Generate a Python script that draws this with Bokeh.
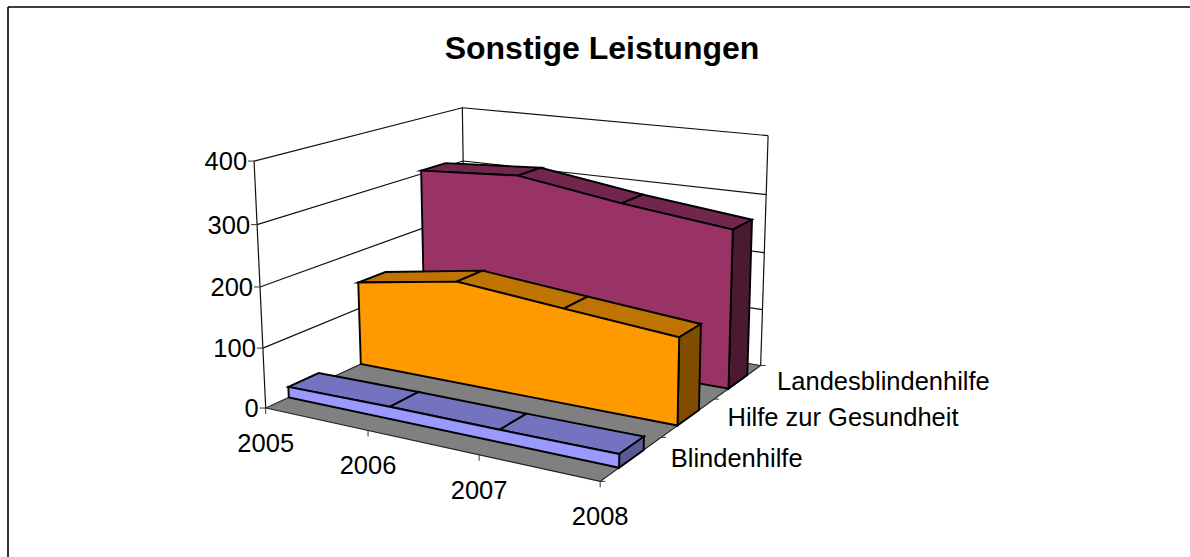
import numpy as np
from bokeh.plotting import figure
from bokeh.models import Range1d
from bokeh.core.properties import value
from bokeh.embed import file_html
from bokeh.resources import INLINE

title_text = "Sonstige Leistungen"
years = ["2005", "2006", "2007", "2008"]
series_names = ["Blindenhilfe", "Hilfe zur Gesundheit", "Landesblindenhilfe"]
blindenhilfe = [18, 20, 20, 21]
hilfe_gesundheit = [146, 175, 158, 142]
landesblindenhilfe = [306, 317, 290, 269]
value_ticks = [0, 100, 200, 300, 400]
series_values = [blindenhilfe, hilfe_gesundheit, landesblindenhilfe]
face_colors = ["#9999FF", "#FF9900", "#993366"]
top_colors = ["#7373BF", "#BF7300", "#73264D"]
side_colors = ["#5A5A96", "#7F4C00", "#4C1933"]
FONT = "Liberation Sans"

# figure coordinates equal screen pixels
W, H = 1190, 557
# projective camera fitted to the visible corners of the chart box
# model (u along years 0..1, z value 0..400, v depth 0..1) -> screen
corners = [
    ((0, 0, 0), (265.0, 407.0)), ((0, 400, 0), (253.5, 161.0)),
    ((1, 0, 0), (600.0, 481.0)),
    ((0, 0, 1), (465.0, 315.5)), ((0, 400, 1), (462.0, 107.0)),
    ((1, 0, 1), (760.0, 365.0)), ((1, 400, 1), (767.5, 135.0)),
]
A, b = [], []
for (u, z, v), (sx, sy) in corners:
    z = z / 400
    A.append([u, z, v, 1, 0, 0, 0, 0, -sx * u, -sx * z, -sx * v]); b.append(sx)
    A.append([0, 0, 0, 0, u, z, v, 1, -sy * u, -sy * z, -sy * v]); b.append(sy)
m = np.linalg.lstsq(np.array(A, float), np.array(b, float), rcond=None)[0]
M = np.append(m, 1).reshape(3, 4)

def proj(u, z, v):
    q = M @ np.array([u, z / 400, v, 1.0])
    return q[0] / q[2], q[1] / q[2]

def poly(points):
    xy = [proj(*pt) for pt in points]
    return [a for a, _ in xy], [c for _, c in xy]

p = figure(width=W, height=H, output_backend="svg", toolbar_location=None,
           x_range=Range1d(0, W), y_range=Range1d(H, 0),
           min_border_left=0, min_border_right=0, min_border_bottom=0, min_border_top=0,
           x_axis_type=None, y_axis_type=None, outline_line_color=None,
           border_fill_color="white", background_fill_color="white")
p.grid.visible = False

def line(points, w=1.2, color="#111111"):
    x, y = poly(points)
    p.line(x, y, line_color=color, line_width=w)

def face(points, color, w=1.9, lc="black"):
    x, y = poly(points)
    p.patch(x, y, fill_color=color, line_color=lc, line_width=w, line_join="miter")

# outer border
p.line([7.5, 7.5], [H, 6.5], line_color="black", line_width=1.6)
p.line([7.5, W], [6.5, 6.5], line_color="black", line_width=1.6)

# walls and gridlines
for t in value_ticks:
    if t > 0:
        line([(0, t, 0), (0, t, 1), (1, t, 1)])
line([(0, 0, 0), (0, 400, 0)])
line([(0, 0, 1), (0, 400, 1)])
line([(1, 0, 1), (1, 400, 1)])
# floor
face([(0, 0, 0), (1, 0, 0), (1, 0, 1), (0, 0, 1)], "#808080", 1.1, "#222222")

# series, back to front
n = len(years)
us = [i / (n - 1) for i in range(n)]
slot = 1 / len(series_values)
for i in reversed(range(len(series_values))):
    vals = series_values[i]
    v0 = (i + 0.5 - 0.205) * slot
    v1 = (i + 0.5 + 0.2) * slot
    for k in range(n - 1):
        face([(us[k], vals[k], v0), (us[k + 1], vals[k + 1], v0),
              (us[k + 1], vals[k + 1], v1), (us[k], vals[k], v1)], top_colors[i])
    face([(1, 0, v0), (1, 0, v1), (1, vals[-1], v1), (1, vals[-1], v0)], side_colors[i])
    face([(0, 0, v0)] + [(us[k], vals[k], v0) for k in range(n)] + [(1, 0, v0)], face_colors[i])

# ticks and labels
def label(x, y, txt, align, size="25.5px", style="normal"):
    p.text([x], [y], text=[txt], text_font=value(FONT), text_font_size=size,
           text_font_style=style, text_align=align, text_baseline="middle", text_color="black")

for t in value_ticks:
    x, y = proj(0, t, 0)
    p.line([x - 6, x], [y, y], line_color="#333333", line_width=1)
    label(x - 7, y, str(t), "right")
for k, yr in enumerate(years):
    x, y = proj(us[k], 0, 0)
    p.line([x, x], [y, y + 6], line_color="#333333", line_width=1)
    label(x, y + 35, yr, "center")
for i, s in enumerate(series_names):
    x, y = proj(1, 0, (i + 0.5) * slot)
    label(x + 39, y - 0.5, s, "left")
for i in range(len(series_names) + 1):
    x, y = proj(1, 0, i * slot)
    p.line([x, x + 5], [y, y], line_color="#333333", line_width=1)

label(601.5, 47.5, title_text, "center", size="32px", style="bold")

open("out.html", "w").write(file_html(p, INLINE))
